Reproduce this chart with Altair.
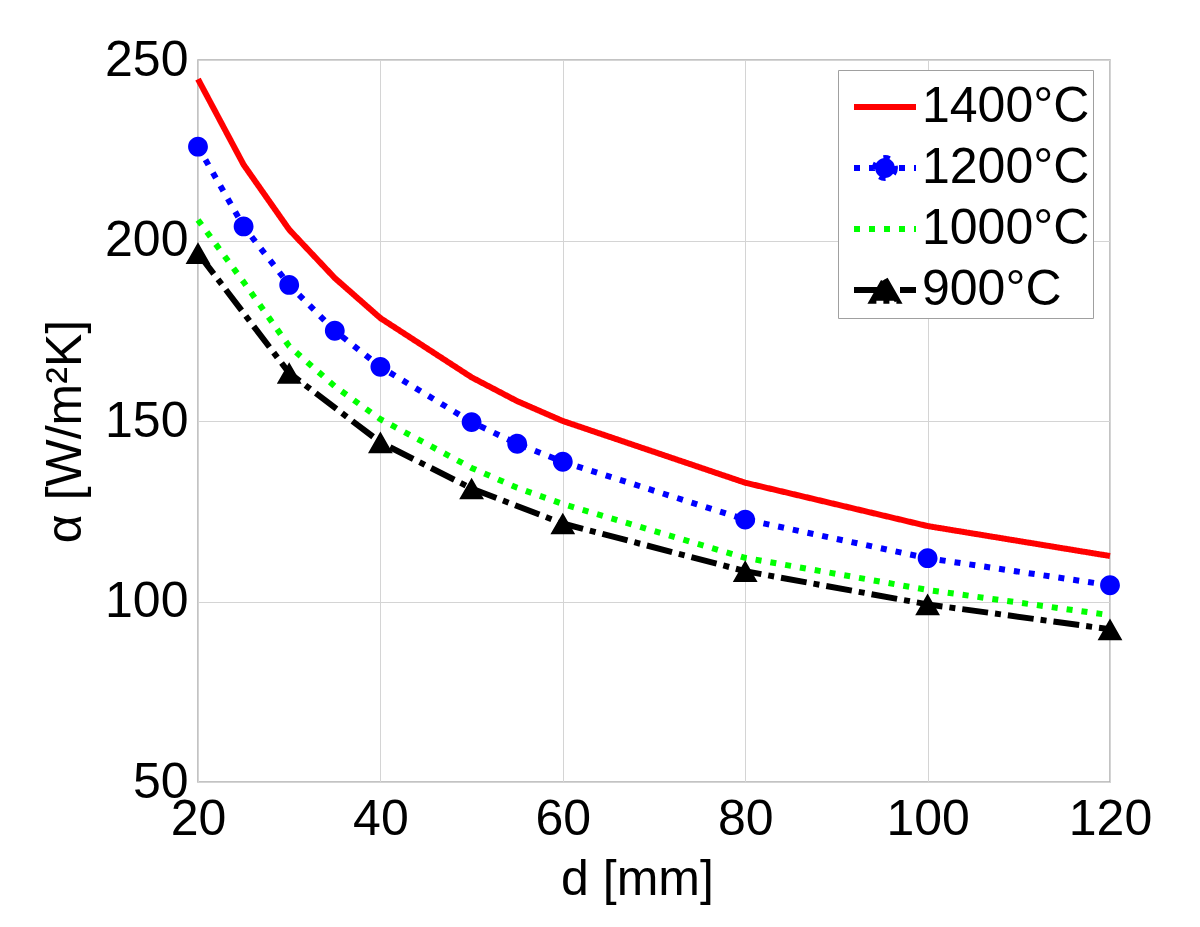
import altair as alt
import pandas as pd

FONT = "Liberation Sans"

# ---- data ----
d_all = [20, 25, 30, 35, 40, 50, 55, 60, 80, 100, 120]
alpha_1400 = [244.7, 221.0, 203.0, 189.6, 178.5, 162.1, 155.5, 150.0, 132.9, 120.9, 112.6]
alpha_1200 = [226.0, 203.9, 187.7, 175.0, 165.0, 149.7, 143.7, 138.7, 122.7, 112.0, 104.5]
alpha_1000 = [205.7, 188.5, 170.7, 159.6, 150.5, 137.0, 131.5, 127.0, 112.1, 103.2, 96.2]
d_900 = [20, 30, 40, 50, 60, 80, 100, 120]
alpha_900 = [196.5, 163.3, 144.1, 131.3, 121.6, 108.4, 99.2, 92.3]

series_names = ["1400°C", "1200°C", "1000°C", "900°C"]
series_colors = ["#ff0000", "#0000ff", "#00ff00", "#000000"]
series_dash = [[1, 0], [6, 9], [6, 9], [26, 7, 6, 7]]

x_ticks = [20, 40, 60, 80, 100, 120]
y_ticks = [50, 100, 150, 200, 250]

rows = []
for s, xs, ys in [
    ("1400°C", d_all, alpha_1400),
    ("1200°C", d_all, alpha_1200),
    ("1000°C", d_all, alpha_1000),
    ("900°C", d_900, alpha_900),
]:
    for i, (xv, yv) in enumerate(zip(xs, ys)):
        rows.append({"d": xv, "alpha": yv, "series": s, "order": i})
df = pd.DataFrame(rows)

markers = df[df.series.isin(["1200°C", "900°C"])]

# glyphs in the unit square: an (unfilled, so only stroked in the legend) line
# segment plus the filled marker of the series
SEG = "M-1,0H1"
CIRCLE = SEG + "M0.32,0A0.32,0.32,0,1,1,-0.32,0A0.32,0.32,0,1,1,0.32,0Z"
TRIANGLE = SEG + "M0,-0.35L0.4,0.35L-0.4,0.35Z"
glyphs = [SEG, CIRCLE, SEG, TRIANGLE]
glyph_fills = ["transparent", "#0000ff", "transparent", "#000000"]
SYM = 3844

xscale = alt.Scale(domain=[20, 120], nice=False, zero=False)
yscale = alt.Scale(domain=[50, 250], nice=False, zero=False)

xax = alt.Axis(values=x_ticks, title="d [mm]", grid=True, ticks=False, tickSize=0,
               domain=False, labelFlush=False, labelOverlap=False, labelPadding=12,
               titleX=439, titleY=72)
yax = alt.Axis(values=y_ticks, title="α [W/m²K]", grid=True, ticks=False, tickSize=0,
               domain=False, labelFlush=False, labelOverlap=False, labelPadding=10,
               titleX=-108, titleY=371)

legend = alt.Legend(
    title=None, orient="none", legendX=640, legendY=10,
    symbolSize=SYM, symbolStrokeWidth=6, symbolFillColor="transparent",
    labelFontSize=50, labelFont=FONT, labelColor="black", labelLimit=400,
    labelOffset=3, rowPadding=2, padding=3, symbolOffset=10,
    strokeColor="#a0a0a0", fillColor="white",
)

lines = alt.Chart(df).mark_line(strokeWidth=6, strokeCap="butt").encode(
    x=alt.X("d:Q", scale=xscale, axis=xax),
    y=alt.Y("alpha:Q", scale=yscale, axis=yax),
    color=alt.Color("series:N", scale=alt.Scale(domain=series_names, range=series_colors), legend=legend),
    strokeDash=alt.StrokeDash("series:N", scale=alt.Scale(domain=series_names, range=series_dash), legend=legend),
    strokeWidth=alt.value(6),
    order="order:Q",
)

points = alt.Chart(markers).mark_point(filled=True, size=SYM, opacity=1).encode(
    x=alt.X("d:Q", scale=xscale),
    y=alt.Y("alpha:Q", scale=yscale),
    shape=alt.Shape("series:N", scale=alt.Scale(domain=series_names, range=glyphs), legend=legend),
    fill=alt.Fill("series:N", scale=alt.Scale(domain=series_names, range=glyph_fills), legend=legend),
)

chart = alt.layer(lines, points).properties(
    width=912, height=722,
    background="white",
    autosize=alt.AutoSizeParams(type="none"),
    padding={"left": 190, "top": 52, "right": 82, "bottom": 137},
).configure_view(stroke="#b0b0b0", strokeWidth=1.5).configure_axis(
    labelFont=FONT, titleFont=FONT, labelFontSize=50, titleFontSize=50,
    labelColor="black", titleColor="black", titleFontWeight="normal",
    gridColor="#d4d4d4", gridWidth=1,
)

chart.save("out.html", embed_options={"renderer": "svg", "actions": False})
